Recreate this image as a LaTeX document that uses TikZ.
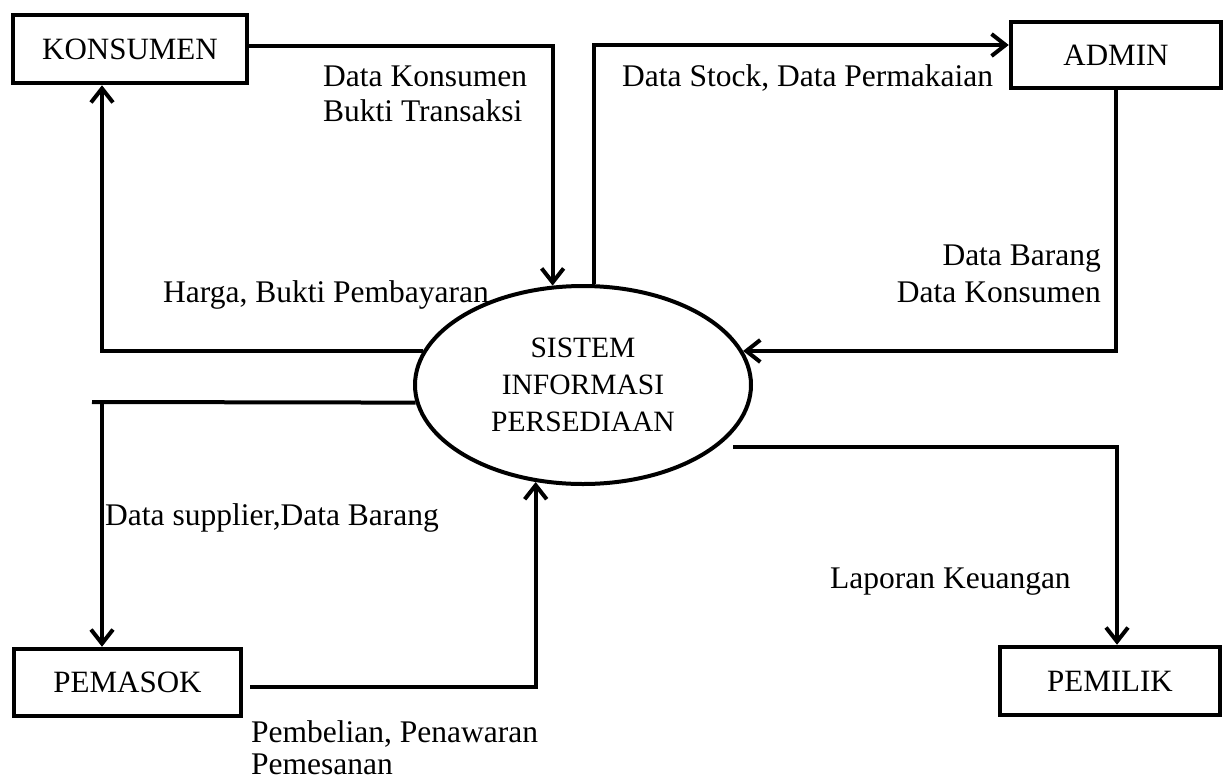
\documentclass[tikz,border=0pt]{standalone}
\usepackage{fontspec}
\setmainfont{Liberation Serif}
\usetikzlibrary{shapes.geometric,arrows.meta}
\tikzset{
  entity/.style={draw,line width=4.5pt,rectangle,inner sep=0pt,font=\fontsize{31}{36}\selectfont},
  proc/.style={draw,line width=4pt,ellipse,minimum width=336pt,minimum height=198pt,inner sep=0pt,align=center,font=\fontsize{29.5}{37}\selectfont},
  flow/.style={line width=4pt},
  arr/.style={-{Straight Barb[length=14pt,width=22pt,line width=4pt]}},
  lbl/.style={inner sep=0pt,font=\fontsize{31.5}{36}\selectfont}
}
\begin{document}
\begin{tikzpicture}[x=1pt,y=-1pt]
\useasboundingbox (0,0) rectangle (1227,780);
% entities
\node[entity,minimum width=234pt,minimum height=68pt] (kons) at (130,49) {KONSUMEN};
\node[entity,minimum width=210pt,minimum height=66pt] (admin) at (1116,55) {ADMIN};
\node[entity,minimum width=227pt,minimum height=67pt] (pem) at (127.5,682.5) {PEMASOK};
\node[entity,minimum width=220pt,minimum height=68pt] (own) at (1110,681) {PEMILIK};
% process
\node[proc] (e) at (583,385) {SISTEM\\INFORMASI\\PERSEDIAAN};
% connectors
\draw[flow,arr] ([yshift=3pt]kons.east) -| (e.107);
\draw[flow,arr] (e.84) |- ([yshift=10pt]admin.west);
\draw[flow,arr] (admin.south) |- (e.12);
\draw[flow,arr] (e.168) -| ([xshift=-28pt]kons.south);
\coordinate (c5) at (92,402);
\draw[flow] (e.186) -- (c5);
\draw[flow,arr] ([xshift=10pt]c5) -- ([xshift=-25.5pt]pem.north);
\draw[flow,arr] ([xshift=7pt,yshift=-4.5pt]pem.east) -| (e.244);
\coordinate (c7) at (733,447);
\draw[flow,arr] (c7) -| ([xshift=7pt]own.north);
% labels
\node[lbl,anchor=base west] (l1a) at (323,86) {Data Konsumen};
\node[lbl,anchor=base west] (l1b) at (323,121) {Bukti Transaksi};
\node[lbl,anchor=base west] (l2) at (622,86) {Data Stock, Data Permakaian};
\node[lbl,anchor=base east] (l3a) at (1101,265) {Data Barang};
\node[lbl,anchor=base east] (l3b) at (1101,302) {Data Konsumen};
\node[lbl,anchor=base west] (l4) at (163,302) {Harga, Bukti Pembayaran};
\node[lbl,anchor=base west] (l5) at (105,525) {Data supplier,Data Barang};
\node[lbl,anchor=base west] (l6a) at (251,742) {Pembelian, Penawaran};
\node[lbl,anchor=base west] (l6b) at (251,774) {Pemesanan};
\node[lbl,anchor=base west] (l7) at (830,588) {Laporan Keuangan};
\end{tikzpicture}
\end{document}
